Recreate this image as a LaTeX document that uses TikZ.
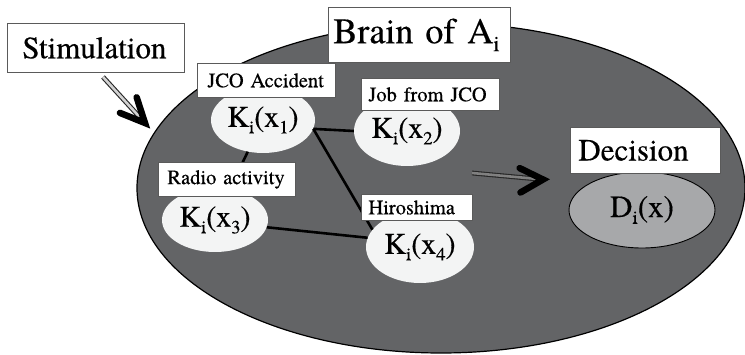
\documentclass[tikz,border=0pt]{standalone}
\usepackage{fontspec}
\setmainfont{texgyretermes}[Extension=.otf, UprightFont=*-regular, BoldFont=*-bold, ItalicFont=*-italic, BoldItalicFont=*-bolditalic, FakeBold=0.4]
\usetikzlibrary{shapes.geometric,calc}
\definecolor{brainfill}{HTML}{636466}
\definecolor{kfill}{HTML}{F3F4F4}
\definecolor{dfill}{HTML}{A7A8AA}
\definecolor{boxline}{HTML}{5A5A5A}
\newcommand{\mysub}[1]{\raisebox{-0.22em}{\scalebox{0.62}{#1}}}
\tikzset{
  kn/.style 2 args={ellipse, fill=kfill, minimum width=#1, minimum height=#2, inner sep=0pt, font=\fontsize{30}{33}\selectfont},
  lbl/.style n args={3}{draw=boxline, line width=0.8pt, fill=white, anchor=north west, text width=#1, minimum height=#2, inner xsep=#3, inner ysep=1pt, align=left},
  conn/.style={line width=2.6pt, black},
  shaft/.style={double=#1, double distance=2.6pt, line width=1.1pt, draw=black!85},
  chev/.style={line width=6.5pt, black, line join=miter, line cap=round},
  small/.style={font=\fontsize{20.5}{23}\selectfont},
  big/.style={font=\fontsize{31}{34}\selectfont}
}
\begin{document}
\begin{tikzpicture}[x=1pt,y=-1pt]
\useasboundingbox (0,0) rectangle (745,355);
% brain
\node[ellipse, draw=black, line width=1.2pt, fill=brainfill, minimum width=608pt, minimum height=330pt, inner sep=0pt] (brain) at (441,188) {};
% knowledge nodes
\node[kn={104pt}{66pt}] (k1) at (263,120) {K\mysub{i}(x\mysub{1})};
\node[kn={106pt}{70pt}] (k2) at (407,131) {K\mysub{i}(x\mysub{2})};
\node[kn={106pt}{64pt}] (k3) at (215,220) {K\mysub{i}(x\mysub{3})};
\node[kn={108pt}{72pt}] (k4) at (420,247) {K\mysub{i}(x\mysub{4})};
% decision node
\node[ellipse, draw=black, line width=0.9pt, fill=dfill, minimum width=146pt, minimum height=76pt, inner sep=0pt, font=\fontsize{31}{33}\selectfont] (d) at (642,210) {D\mysub{i}(x)};
% connectors
\draw[conn] (k1) -- (k3);
\draw[conn] (k1.-10) -- (k2.west);
\draw[conn] (k1.-10) -- (k4.160);
\draw[conn] (k3.-8) -- (k4.170);
% labels
\node[lbl={147pt}{49pt}{15pt}, big] (stim) at (7,23) {Stimulation};
\node[lbl={172pt}{55pt}{5pt}, font=\fontsize{36}{40}\selectfont] (brainlbl) at (328,7) {Brain of A\mysub{i}};
\node[lbl={118pt}{34pt}{10pt}, small] (l1) at (197,63) {JCO Accident};
\node[lbl={124pt}{32pt}{7pt}, small] (l2) at (361,78) {Job from JCO};
\node[lbl={119pt}{34pt}{9pt}, small] (l3) at (158,162) {Radio activity};
\node[lbl={97pt}{26pt}{7pt}, small] (l4) at (361,194) {Hiroshima};
\node[lbl={134pt}{46pt}{8pt}, big] (dl) at (570,127) {Decision};
% stimulation arrow
\coordinate (s0) at (103,77);
\coordinate (stip) at (145,123);
\draw[shaft=gray!35] (s0) -- (stip);
\draw[chev] ($(stip)+(202:27)$) -- (stip) -- ($(stip)+(252:27)$);
% decision arrow
\coordinate (d0) at (472,173);
\coordinate (dtip) at (543,179.5);
\draw[shaft=gray] (d0) -- (dtip);
\draw[chev] ($(dtip)+(150:26)$) -- (dtip) -- ($(dtip)+(206:26)$);
\end{tikzpicture}
\end{document}
